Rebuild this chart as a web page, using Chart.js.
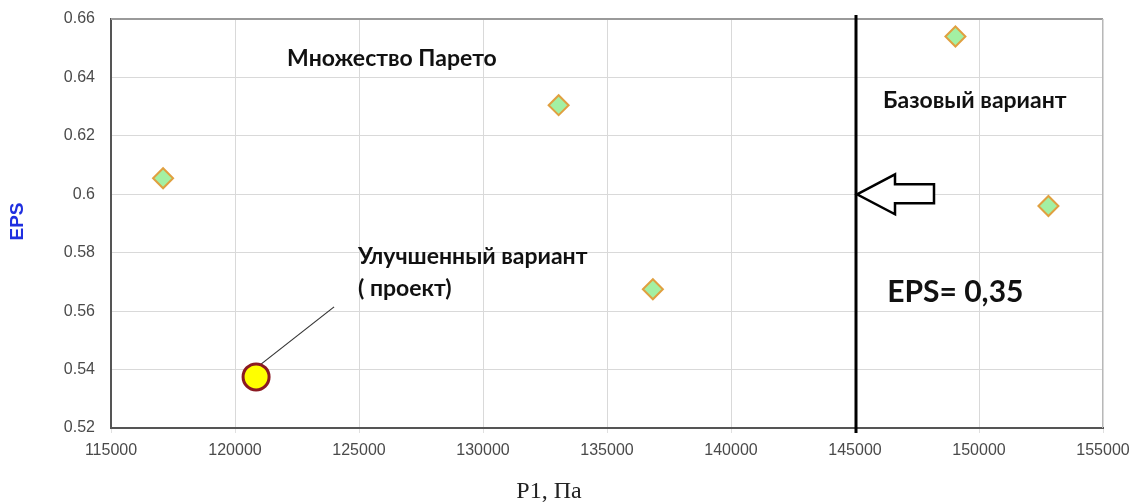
<!DOCTYPE html>
<html>
<head>
<meta charset="utf-8">
<script src="https://cdn.jsdelivr.net/npm/chart.js@4/dist/chart.umd.min.js"></script>
<style>
  html, body { margin: 0; padding: 0; background: #ffffff; }
  #wrap { width: 1129px; height: 503px; }
</style>
</head>
<body>
<div id="wrap"><canvas id="c" width="1129" height="503"></canvas></div>
<script>
// Pareto set points (P1 in Pa, EPS)
const paretoP1  = [117100, 133050, 136850, 149050, 152800];
const paretoEps = [0.6055, 0.6305, 0.5675, 0.6540, 0.5960];

// Improved variant (project)
const projectP1  = [120850];
const projectEps = [0.5375];

// Base variant boundary and the level the arrow points at
const baseP1  = 145000;
const baseEps = 0.60;

// Axis ticks
const xTicks = [115000, 120000, 125000, 130000, 135000, 140000, 145000, 150000, 155000];
const yTicks = [0.52, 0.54, 0.56, 0.58, 0.60, 0.62, 0.64, 0.66];

// Text labels
const labelPareto  = 'Множество Парето';
const labelBase    = 'Базовый вариант';
const labelProject = ['Улучшенный вариант', '( проект)'];
const labelEpsBase = 'EPS= 0,35';
const xTitle = 'P1, Па';
const yTitle = 'EPS';

const toPoints = (xs, ys) => xs.map((x, i) => ({ x: x, y: ys[i] }));

const annoFont = '"Lato", "Open Sans", sans-serif';
const tickFont = { family: '"Liberation Sans", Arial, sans-serif', size: 16 };

const overlay = {
  id: 'overlay',
  beforeDatasetsDraw(chart) {
    const { ctx, chartArea: a, scales: { x, y } } = chart;
    ctx.save();
    // frame on top and right
    ctx.strokeStyle = '#9a9a9a';
    ctx.lineWidth = 2;
    ctx.beginPath();
    ctx.moveTo(a.left, a.top);
    ctx.lineTo(a.right, a.top);
    ctx.stroke();
    ctx.strokeStyle = '#b8b8b8';
    ctx.lineWidth = 1;
    ctx.beginPath();
    ctx.moveTo(a.right - 0.5, a.top);
    ctx.lineTo(a.right - 0.5, a.bottom);
    ctx.stroke();

    // base variant boundary
    const bx = x.getPixelForValue(baseP1) + 1;
    ctx.strokeStyle = '#000';
    ctx.lineWidth = 3;
    ctx.beginPath();
    ctx.moveTo(bx, a.top - 4);
    ctx.lineTo(bx, a.bottom + 5);
    ctx.stroke();

    // hollow arrow pointing at the boundary
    const ty = y.getPixelForValue(baseEps);
    const tx = bx + 1;
    ctx.lineWidth = 2.5;
    ctx.lineJoin = 'miter';
    ctx.fillStyle = '#fff';
    ctx.beginPath();
    ctx.moveTo(tx, ty);
    ctx.lineTo(tx + 38, ty - 20);
    ctx.lineTo(tx + 38, ty - 10);
    ctx.lineTo(tx + 77, ty - 10);
    ctx.lineTo(tx + 77, ty + 9);
    ctx.lineTo(tx + 38, ty + 9);
    ctx.lineTo(tx + 38, ty + 20);
    ctx.closePath();
    ctx.fill();
    ctx.stroke();

    // leader line from the project point to its label
    const px = x.getPixelForValue(projectP1[0]);
    const py = y.getPixelForValue(projectEps[0]);
    ctx.strokeStyle = '#333';
    ctx.lineWidth = 1.2;
    ctx.beginPath();
    ctx.moveTo(px + 4, py - 12);
    ctx.lineTo(px + 78, py - 70);
    ctx.stroke();
    ctx.restore();
  },
  afterDraw(chart) {
    const { ctx, chartArea: a, scales: { x, y } } = chart;
    ctx.save();
    ctx.fillStyle = '#111';
    ctx.textBaseline = 'middle';
    ctx.textAlign = 'left';

    ctx.font = 'bold 23px ' + annoFont;
    ctx.fillText(labelPareto, x.getPixelForValue(122100), y.getPixelForValue(0.6466));
    ctx.fillText(labelBase, x.getPixelForValue(146130), y.getPixelForValue(0.6320));
    ctx.fillText(labelProject[0], x.getPixelForValue(124960), y.getPixelForValue(0.5787));
    ctx.fillText(labelProject[1], x.getPixelForValue(124960), y.getPixelForValue(0.5677));

    ctx.font = 'bold 30px ' + annoFont;
    ctx.fillText(labelEpsBase, x.getPixelForValue(146300), y.getPixelForValue(0.5666));

    // axis titles
    ctx.fillStyle = '#222';
    ctx.textAlign = 'center';
    ctx.font = '24px "Liberation Serif", "DejaVu Serif", serif';
    ctx.fillText(xTitle, 549, a.bottom + 64);

    ctx.fillStyle = '#1f2fe0';
    ctx.font = 'bold 19px "Liberation Sans", Arial, sans-serif';
    ctx.translate(18, (a.top + a.bottom) / 2 - 2);
    ctx.rotate(-Math.PI / 2);
    ctx.fillText(yTitle, 0, 0);
    ctx.restore();
  }
};

new Chart(document.getElementById('c'), {
  type: 'scatter',
  data: {
    datasets: [
      {
        label: 'project',
        data: toPoints(projectP1, projectEps),
        pointStyle: 'circle',
        pointRadius: 13,
        pointHoverRadius: 13,
        pointBackgroundColor: '#ffff00',
        pointBorderColor: '#8b1a22',
        pointBorderWidth: 3
      },
      {
        label: 'pareto',
        data: toPoints(paretoP1, paretoEps),
        pointStyle: 'rectRot',
        pointRadius: 10,
        pointHoverRadius: 10,
        pointBackgroundColor: '#a3f0a3',
        pointBorderColor: '#e0a040',
        pointBorderWidth: 2
      }
    ]
  },
  options: {
    responsive: false,
    devicePixelRatio: 1,
    animation: false,
    events: [],
    layout: { padding: { top: 19, right: 26, left: 0, bottom: 0 } },
    plugins: {
      legend: { display: false },
      tooltip: { enabled: false },
      title: { display: false }
    },
    scales: {
      x: {
        type: 'linear',
        min: xTicks[0],
        max: xTicks[xTicks.length - 1],
        afterFit(s) {
          s.height = 75;
          s.paddingLeft = 0;
          s.paddingRight = 0;
        },
        afterBuildTicks(s) { s.ticks = xTicks.map(v => ({ value: v })); },
        ticks: {
          color: '#4a4a4a',
          font: tickFont,
          padding: 8,
          maxRotation: 0,
          callback: v => String(v)
        },
        grid: { color: '#d9d9d9', lineWidth: 1, tickLength: 5, tickColor: '#e0e0e0' },
        border: { color: '#555', width: 2 }
      },
      y: {
        type: 'linear',
        min: yTicks[0],
        max: yTicks[yTicks.length - 1],
        afterFit(s) {
          s.width = 111;
          s.paddingTop = 0;
          s.paddingBottom = 0;
        },
        afterBuildTicks(s) { s.ticks = yTicks.map(v => ({ value: v })); },
        ticks: {
          color: '#4a4a4a',
          font: tickFont,
          padding: 16,
          callback: v => String(Number(v.toFixed(2)))
        },
        grid: { color: '#d9d9d9', lineWidth: 1, drawTicks: false },
        border: { color: '#555', width: 2 }
      }
    }
  },
  plugins: [overlay]
});
</script>
</body>
</html>
